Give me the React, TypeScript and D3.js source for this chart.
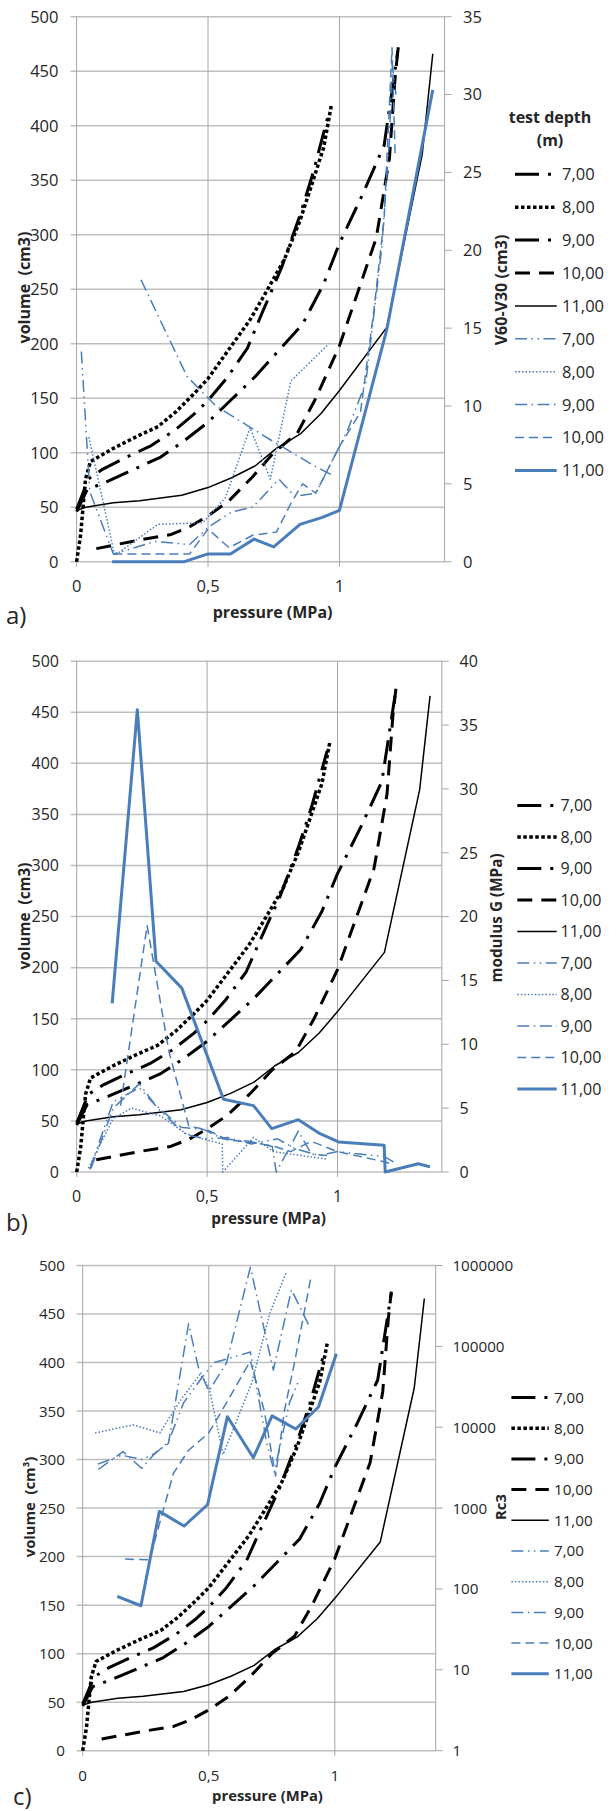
import React from "react";
import * as d3 from "d3";

// ---------- data ----------
const depthLabels = ["7,00", "8,00", "9,00", "10,00", "11,00"];
const pressureTicks = [0, 0.5, 1];
const pressureTickLabels = ["0", "0,5", "1"];
const volumeTicks = [0, 50, 100, 150, 200, 250, 300, 350, 400, 450, 500];
const v6030Ticks = [0, 5, 10, 15, 20, 25, 30, 35];
const modulusTicks = [0, 5, 10, 15, 20, 25, 30, 35, 40];
const rc3Ticks = [1, 10, 100, 1000, 10000, 100000, 1000000];

// volume curves: [pressure (MPa), volume (cm3)]
const volume7 = [[0, 48], [0.045, 76], [0.1, 85], [0.19, 96], [0.28, 106], [0.37, 120], [0.45, 136], [0.5, 148], [0.57, 168], [0.65, 196], [0.7, 225], [0.78, 270], [0.85, 318], [0.9, 357], [0.96, 412]];
const volume8 = [[0, 0], [0.015, 24], [0.034, 76], [0.053, 92], [0.14, 104], [0.23, 115], [0.31, 124], [0.38, 138], [0.45, 155], [0.5, 168], [0.58, 195], [0.66, 222], [0.72, 247], [0.79, 277], [0.85, 313], [0.9, 350], [0.94, 380], [0.97, 420]];
const volume9 = [[0, 46], [0.04, 66], [0.12, 74], [0.23, 86], [0.32, 96], [0.41, 111], [0.5, 128], [0.59, 149], [0.68, 170], [0.77, 194], [0.86, 218], [0.94, 255], [1.0, 292], [1.09, 338], [1.17, 382], [1.224, 472]];
const volume10 = [[0.075, 12], [0.24, 20], [0.36, 25], [0.43, 32], [0.5, 42], [0.58, 56], [0.67, 78], [0.75, 100], [0.84, 118], [0.91, 150], [1.0, 198], [1.14, 297], [1.19, 370], [1.212, 445], [1.224, 473]];
const volume11 = [[0, 47], [0.035, 50], [0.14, 54], [0.24, 56], [0.4, 61], [0.5, 68], [0.59, 77], [0.68, 88], [0.76, 104], [0.85, 117], [0.93, 136], [1.0, 157], [1.18, 215], [1.315, 374], [1.355, 466]];

// V60-V30 (cm3) : [pressure, value]
const v6030_7 = [[0.018, 13.5], [0.05, 4.5], [0.14, 0.5], [0.3, 1.3], [0.43, 1.1], [0.5, 2.2], [0.59, 3.2], [0.67, 3.5], [0.77, 5.3], [0.83, 4.2], [0.91, 4.4], [1.03, 8.4], [1.1, 11.5], [1.16, 20], [1.19, 27], [1.2, 32], [1.215, 30]];
const v6030_8 = [[0.047, 8.0], [0.145, 0.4], [0.31, 2.4], [0.48, 2.5], [0.566, 4.1], [0.66, 8.6], [0.737, 5.3], [0.815, 11.6], [0.96, 14.0]];
const v6030_9 = [[0.245, 18.1], [0.42, 11.9], [0.53, 10], [0.74, 7.8], [0.91, 6.1], [0.98, 5.5]];
const v6030_10 = [[0.14, 0.5], [0.43, 0.5], [0.5, 2.1], [0.58, 0.9], [0.67, 1.7], [0.76, 1.9], [0.82, 3.9], [0.86, 5.0], [0.91, 4.4], [1.0, 7.4], [1.08, 9.6], [1.13, 16], [1.17, 22], [1.2, 33], [1.212, 26]];
const v6030_11 = [[0.135, 0], [0.41, 0], [0.5, 0.5], [0.585, 0.5], [0.675, 1.45], [0.75, 0.95], [0.85, 2.4], [0.935, 2.85], [1.0, 3.3], [1.18, 14.9], [1.355, 30.3]];

// modulus G (MPa)
const modG_7 = [[0.05, 0.2], [0.14, 5.5], [0.24, 6.6], [0.32, 4.8], [0.42, 2.9], [0.5, 2.6], [0.58, 2.7], [0.67, 2.2], [0.77, 2.6], [0.84, 1.8], [0.93, 1.3], [1.0, 1.6], [1.18, 1.2], [1.23, 0.6]];
const modG_8 = [[0.045, 0.3], [0.14, 4.2], [0.21, 5.0], [0.32, 4.4], [0.42, 3.0], [0.5, 2.5], [0.558, 2.2], [0.56, 0], [0.678, 2.7], [0.754, 1.6], [0.857, 1.3], [0.96, 1.0]];
const modG_9 = [[0.055, 0.3], [0.14, 5.0], [0.24, 6.9], [0.3, 5.3], [0.4, 3.5], [0.49, 3.3], [0.56, 2.6], [0.66, 2.4], [0.75, 2.0], [0.765, 0], [0.8, 1.3], [0.85, 3.2], [0.9, 1.4], [0.96, 1.3]];
const modG_10 = [[0.168, 5.2], [0.27, 19.3], [0.354, 9.4], [0.43, 3.6], [0.5, 3.3], [0.58, 2.5], [0.68, 2.3], [0.76, 2.0], [0.82, 1.6], [0.9, 2.4], [1.0, 1.6], [1.18, 0.8], [1.21, 0.6]];
const modG_11 = [[0.136, 13.2], [0.2325, 36.2], [0.304, 16.5], [0.403, 14.4], [0.563, 5.7], [0.678, 5.2], [0.748, 3.4], [0.85, 4.1], [0.933, 3.0], [1.004, 2.35], [1.179, 2.1], [1.183, 0], [1.31, 0.65], [1.355, 0.4]];

// Rc3 (log)
const rc3_7 = [[0.06, 3500], [0.155, 4500], [0.235, 4000], [0.29, 4800], [0.34, 6600], [0.4, 20000], [0.47, 40000], [0.52, 63000], [0.58, 71000], [0.665, 85000], [0.73, 6300], [0.76, 2800], [0.82, 20000], [0.86, 40000]];
const rc3_8 = [[0.049, 8500], [0.2, 10700], [0.306, 8500], [0.39, 22000], [0.465, 45000], [0.5, 32000], [0.557, 4600], [0.67, 35000], [0.742, 257000], [0.808, 830000]];
const rc3_9 = [[0.062, 3000], [0.16, 5000], [0.234, 3100], [0.29, 4900], [0.34, 6300], [0.42, 190000], [0.458, 56000], [0.5, 28000], [0.57, 62000], [0.665, 950000], [0.756, 51000], [0.828, 500000], [0.9, 174000]];
const rc3_10 = [[0.168, 234], [0.265, 229], [0.36, 2700], [0.42, 5200], [0.5, 8500], [0.57, 20000], [0.665, 66000], [0.72, 16000], [0.765, 2500], [0.8, 16000], [0.84, 63000], [0.905, 710000]];
const rc3_11 = [[0.137, 81], [0.231, 62], [0.304, 910], [0.402, 600], [0.495, 1100], [0.574, 13500], [0.677, 4200], [0.751, 13800], [0.845, 9500], [0.935, 17800], [1.006, 81000]];

// ---------- styles ----------
const BLUE = "#4A7EBB";
const blackStyles = [
  { color: "#000", w: 3, dash: "24 9 3 9" },
  { color: "#000", w: 3.5, dash: "3.5 2.5" },
  { color: "#000", w: 3, dash: "24 9 3 9" },
  { color: "#000", w: 3, dash: "15 9" },
  { color: "#000", w: 1.5, dash: "none" },
];
const blueStyles = [
  { color: BLUE, w: 1.5, dash: "12 4.5 1.5 4.5 1.5 4.5" },
  { color: BLUE, w: 1.5, dash: "1.5 2" },
  { color: BLUE, w: 1.5, dash: "12 4.5 1.5 4.5" },
  { color: BLUE, w: 1.5, dash: "9 5" },
  { color: BLUE, w: 3, dash: "none" },
];
const FONT = "'Open Sans', sans-serif";
const TXT = "#262626";

const blackSeries = [volume7, volume8, volume9, volume10, volume11];

const panels = [
  {
    left: 76.6, right: 444.6, top: 16.7, bottom: 561.7, fs: 16.5, tfs: 16,
    rightDomain: [0, 35], rightTicks: v6030Ticks, log: false, blue: [v6030_7, v6030_8, v6030_9, v6030_10, v6030_11],
    leftTickRight: 58.5, rightTickX: 463, leftTitle: [24.4, 287.5], leftTitleText: "volume  (cm3)",
    rightTitle: [501, 290], rightTitleText: "V60-V30 (cm3)",
    xTitleX: 272.6, xTitleY: 617.6, label: "a)", labelX: 6, labelY: 624,
    legendX: 515, legendX2: 556.7, legendTextX: 562, legendY: 174.3, legendStep: 32.9,
    legendTitle: true,
  },
  {
    left: 76.7, right: 441.8, top: 661.2, bottom: 1172, fs: 16, tfs: 15.3,
    rightDomain: [0, 40], rightTicks: modulusTicks, log: false, blue: [modG_7, modG_8, modG_9, modG_10, modG_11],
    leftTickRight: 59, rightTickX: 459.5, leftTitle: [24.4, 916], leftTitleText: "volume  (cm3)",
    rightTitle: [496.5, 918], rightTitleText: "modulus G (MPa)",
    xTitleX: 268.6, xTitleY: 1224, label: "b)", labelX: 6, labelY: 1231,
    legendX: 517.3, legendX2: 556.7, legendTextX: 560.6, legendY: 805.5, legendStep: 31.5,
    legendTitle: false,
  },
  {
    left: 82.7, right: 435.7, top: 1265.5, bottom: 1750.7, fs: 15.2, tfs: 14.8,
    rightDomain: [1, 1000000], rightTicks: rc3Ticks, log: true, blue: [rc3_7, rc3_8, rc3_9, rc3_10, rc3_11],
    leftTickRight: 65, rightTickX: 452.4, leftTitle: [29.5, 1507], leftTitleText: "volume  (cm³)",
    rightTitle: [500.4, 1507], rightTitleText: "Rc3",
    xTitleX: 267.5, xTitleY: 1801, label: "c)", labelX: 13, labelY: 1805,
    legendX: 511.4, legendX2: 548.8, legendTextX: 554, legendY: 1397.5, legendStep: 30.7,
    legendTitle: false,
  },
];

function Panel({ cfg }: { cfg: any }) {
  const x = d3.scaleLinear().domain([0, 1.4]).range([cfg.left, cfg.right]);
  const y = d3.scaleLinear().domain([0, 500]).range([cfg.bottom, cfg.top]);
  const y2: any = cfg.log
    ? d3.scaleLog().domain(cfg.rightDomain).range([cfg.bottom, cfg.top])
    : d3.scaleLinear().domain(cfg.rightDomain).range([cfg.bottom, cfg.top]);
  const lineL = d3.line<number[]>().x((d) => x(d[0])).y((d) => y(d[1]));
  const lineR = d3.line<number[]>().x((d) => x(d[0])).y((d) => y2(d[1]));
  const fs = cfg.fs;
  const tfs = cfg.tfs;
  const legendEntries = [
    ...blackStyles.map((s, i) => ({ s, label: depthLabels[i] })),
    ...blueStyles.map((s, i) => ({ s, label: depthLabels[i] })),
  ];
  return (
    <g>
      {volumeTicks.map((t) => (
        <line key={"h" + t} x1={cfg.left - 6} x2={cfg.right} y1={y(t)} y2={y(t)} stroke="#BFBFBF" strokeWidth={1.5} />
      ))}
      {pressureTicks.map((t) => (
        <line key={"v" + t} x1={x(t)} x2={x(t)} y1={cfg.top} y2={cfg.bottom + 5} stroke="#A6A6A6" strokeWidth={1} />
      ))}
      <line x1={cfg.right} x2={cfg.right} y1={cfg.top} y2={cfg.bottom} stroke="#A6A6A6" strokeWidth={1} />
      {cfg.rightTicks.map((t: number) => (
        <line key={"rt" + t} x1={cfg.right} x2={cfg.right + 7} y1={y2(t)} y2={y2(t)} stroke="#A6A6A6" strokeWidth={1} />
      ))}
      {volumeTicks.map((t) => (
        <text key={"lt" + t} x={cfg.leftTickRight} y={y(t) + fs * 0.36} textAnchor="end" fontSize={fs} fontFamily={FONT} fill={TXT}>
          {t}
        </text>
      ))}
      {cfg.rightTicks.map((t: number) => (
        <text key={"rl" + t} x={cfg.rightTickX} y={y2(t) + fs * 0.36} textAnchor="start" fontSize={fs} fontFamily={FONT} fill={TXT}>
          {t}
        </text>
      ))}
      {pressureTicks.map((t, i) => (
        <text key={"bt" + t} x={x(t)} y={cfg.bottom + 30} textAnchor="middle" fontSize={fs} fontFamily={FONT} fill={TXT}>
          {pressureTickLabels[i]}
        </text>
      ))}
      {blackSeries.map((s, i) => (
        <path key={"b" + i} d={lineL(s as any) || ""} fill="none" stroke={blackStyles[i].color} strokeWidth={blackStyles[i].w} strokeDasharray={blackStyles[i].dash} strokeLinejoin="round" />
      ))}
      {cfg.blue.map((s: number[][], i: number) => (
        <path key={"u" + i} d={lineR(s as any) || ""} fill="none" stroke={blueStyles[i].color} strokeWidth={blueStyles[i].w} strokeDasharray={blueStyles[i].dash} strokeLinejoin="round" />
      ))}
      <text x={cfg.xTitleX} y={cfg.xTitleY} textAnchor="middle" fontSize={tfs} fontWeight="bold" fontFamily={FONT} fill={TXT}>
        pressure (MPa)
      </text>
      <text transform={`translate(${cfg.leftTitle[0] + tfs * 0.36},${cfg.leftTitle[1]}) rotate(-90)`} textAnchor="middle" fontSize={tfs} fontWeight="bold" fontFamily={FONT} fill={TXT} style={{ whiteSpace: "pre" }}>
        {cfg.leftTitleText}
      </text>
      <text transform={`translate(${cfg.rightTitle[0] + tfs * 0.36},${cfg.rightTitle[1]}) rotate(-90)`} textAnchor="middle" fontSize={tfs} fontWeight="bold" fontFamily={FONT} fill={TXT}>
        {cfg.rightTitleText}
      </text>
      <text x={cfg.labelX} y={cfg.labelY} fontSize={24} fontFamily={FONT} fill={TXT}>
        {cfg.label}
      </text>
      {cfg.legendTitle && (
        <g>
          <text x={550} y={123} textAnchor="middle" fontSize={tfs} fontWeight="bold" fontFamily={FONT} fill={TXT}>test depth</text>
          <text x={550} y={146} textAnchor="middle" fontSize={tfs} fontWeight="bold" fontFamily={FONT} fill={TXT}>(m)</text>
        </g>
      )}
      {legendEntries.map((e, i) => {
        const ly = cfg.legendY + i * cfg.legendStep;
        return (
          <g key={"lg" + i}>
            <line x1={cfg.legendX} x2={cfg.legendX2} y1={ly} y2={ly} stroke={e.s.color} strokeWidth={e.s.w} strokeDasharray={e.s.dash} />
            <text x={cfg.legendTextX} y={ly + fs * 0.36} fontSize={fs} fontFamily={FONT} fill={TXT}>
              {e.label}
            </text>
          </g>
        );
      })}
    </g>
  );
}

export default function App() {
  return (
    <svg width={616} height={1811} style={{ position: "absolute", left: 0, top: 0, background: "#fff" }}>
      <rect x={0} y={0} width={616} height={1811} fill="#fff" />
      {panels.map((p, i) => (
        <Panel key={i} cfg={p} />
      ))}
    </svg>
  );
}
